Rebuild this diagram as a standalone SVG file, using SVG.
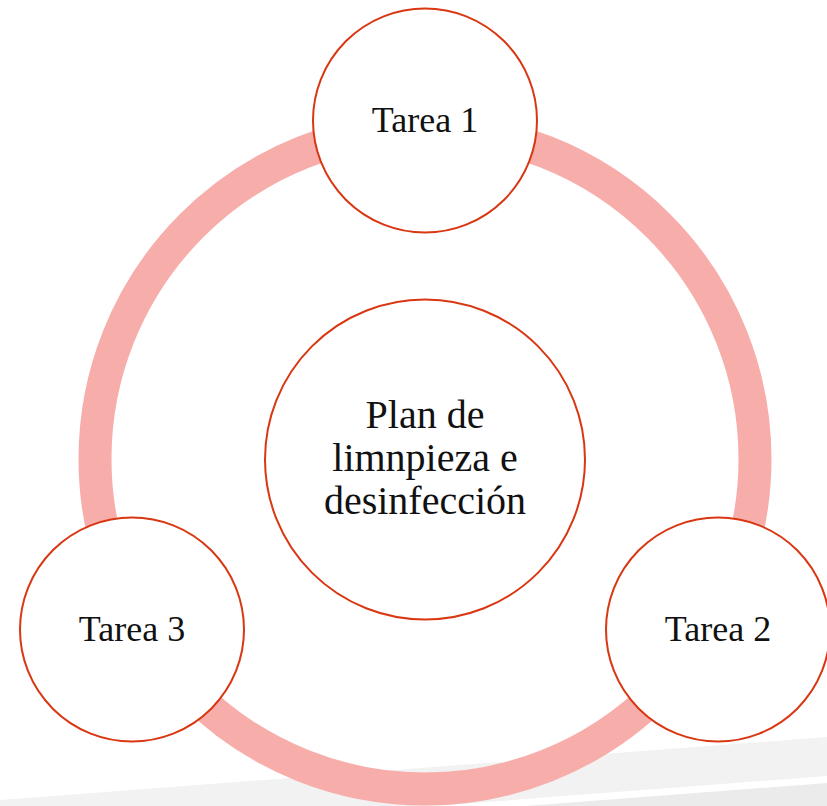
<svg xmlns="http://www.w3.org/2000/svg" width="827" height="806" viewBox="0 0 827 806">
<style>
.node{fill:#ffffff;stroke:#d93712;stroke-width:2}
.lbl{font-family:"Liberation Serif","DejaVu Serif",serif;fill:#111111;text-anchor:middle}
.ring{fill:none;stroke:#f7aeab;stroke-width:33}
</style>
<rect width="827" height="806" fill="#ffffff"/>
<g id="background">
<polygon points="0,800 827,737 827,776 0,839" fill="#f2f2f2"/>
<polygon points="0,846 827,783 827,806 0,806" fill="#ebebeb"/>
</g>
<g id="connectors">
<circle class="ring" cx="425" cy="459" r="330"/>
</g>
<g id="center">
<circle class="node" cx="425" cy="459.5" r="160"/>
<text class="lbl" font-size="40" x="425" y="428">Plan de</text>
<text class="lbl" font-size="40" x="425" y="471">limnpieza e</text>
<text class="lbl" font-size="40" x="425" y="514">desinfección</text>
</g>
<g id="tarea1">
<circle class="node" cx="425" cy="120.5" r="112"/>
<text class="lbl" font-size="36" x="425" y="132">Tarea 1</text>
</g>
<g id="tarea2">
<circle class="node" cx="718" cy="629.5" r="112"/>
<text class="lbl" font-size="36" x="718" y="641">Tarea 2</text>
</g>
<g id="tarea3">
<circle class="node" cx="132" cy="629.5" r="112"/>
<text class="lbl" font-size="36" x="132" y="641">Tarea 3</text>
</g>
</svg>
